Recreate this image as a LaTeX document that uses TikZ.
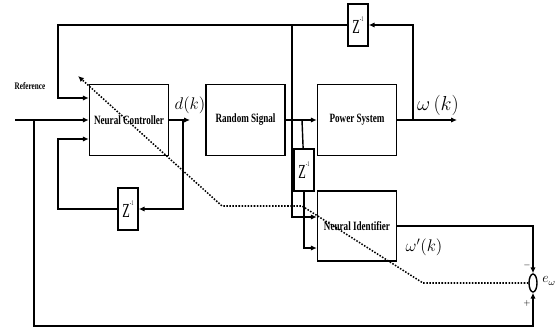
\documentclass[tikz,border=0pt]{standalone}
\usepackage{amsmath,amssymb}
\usepackage{fontspec}
\usetikzlibrary{positioning,arrows.meta,shapes.geometric}
\newfontfamily\condfont[FakeStretch=0.72]{Liberation Serif}
\newfontfamily\zfont[FakeStretch=0.62]{Liberation Serif}
\newcommand{\zinv}{{\zfont\fontsize{17}{17}\selectfont Z\raisebox{0.6em}{\fontsize{6}{6}\selectfont -1}}}

\begin{document}
\begin{tikzpicture}[x=0.03cm,y=-0.03cm,>={Latex[length=5pt,width=4.5pt]},line width=1.2pt,
  block/.style={draw,minimum width=2.37cm,minimum height=2.13cm,inner sep=1pt,font=\condfont\bfseries\fontsize{10.8}{12}\selectfont},
  delay/.style={draw,minimum width=0.6cm,minimum height=1.26cm,inner sep=0pt},
  errline/.style={line width=1.3pt,dash pattern=on 1.3pt off 1.3pt}]
\useasboundingbox (0,0) rectangle (557,327);
% blocks
\node[block] (nc) at (129,120) {Neural Controller};
\node[block] (rs) at (245.5,120) {Random Signal};
\node[block] (ps) at (357,120) {Power System};
\node[block,minimum height=2.1cm] (ni) at (357,226) {Neural Identifier};
\node[delay] (ztop) at (358,25) {\zinv};
\node[delay] (zmid) at (304,170) {\zinv};
\node[delay] (zbot) at (128,209) {\zinv};
\node[draw,ellipse,minimum width=0.24cm,minimum height=0.54cm,inner sep=0pt] (sum) at (533,283) {};
% labels
\node[font=\condfont\bfseries\fontsize{8.5}{10}\selectfont] (reflbl) at (30,86) {Reference};
\node[font=\Large] (dlbl) at (190,105) {$d(k)$};
\node[font=\LARGE] (wlbl) at (438,105) {$\omega\,(k)$};
\node[font=\Large] (wilbl) at (424,247) {$\omega'(k)$};
\node[font=\large] (elbl) at (549,281) {$e_\omega$};
\node[font=\scriptsize] (minus) at (527,265) {$-$};
\node[font=\scriptsize] (plus) at (527,303) {$+$};
% corners and branch points
\coordinate (in) at (15,120);
\coordinate (j0) at (34,120);
\coordinate (bl) at (34,326);
\coordinate (tl) at (58,25);
\coordinate (tj) at (292,25);
\coordinate (bll) at (58,209);
\coordinate (dk) at (190,120);
\coordinate (jd) at (183,120);
\coordinate (js) at (302,120);
\coordinate (jp) at (413,120);
\coordinate (wk) at (457,120);
\coordinate (d1) at (423,283);
\coordinate (d2) at (302,206);
\coordinate (d3) at (222,206);
\coordinate (wt) at (78,76);
% signal paths
\draw[->] (in) -- (nc);
\draw[->] (j0) -- (bl) -| (sum.south);
\draw[->] (ztop) -- (tl) |- ([yshift=0.66cm]nc.west);
\draw[->] (nc) -- (dk);
\draw[->] (jd) |- (zbot);
\draw[->] (zbot) -- (bll) |- ([yshift=-0.57cm]nc.west);
\draw[->] (rs) -- (ps);
\draw (js) -- (zmid);
\draw[->] (zmid) |- ([yshift=-0.66cm]ni.west);
\draw[->] (tj) |- ([yshift=0.27cm]ni.west);
\draw[->] (ps) -- (wk);
\draw[->] (jp) |- (ztop);
\draw[->] (ni) -| (sum.north);
% error path
\draw[errline,->] (sum) -- (d1) -- (d2) -- (d3) -- (wt);
\end{tikzpicture}
\end{document}
